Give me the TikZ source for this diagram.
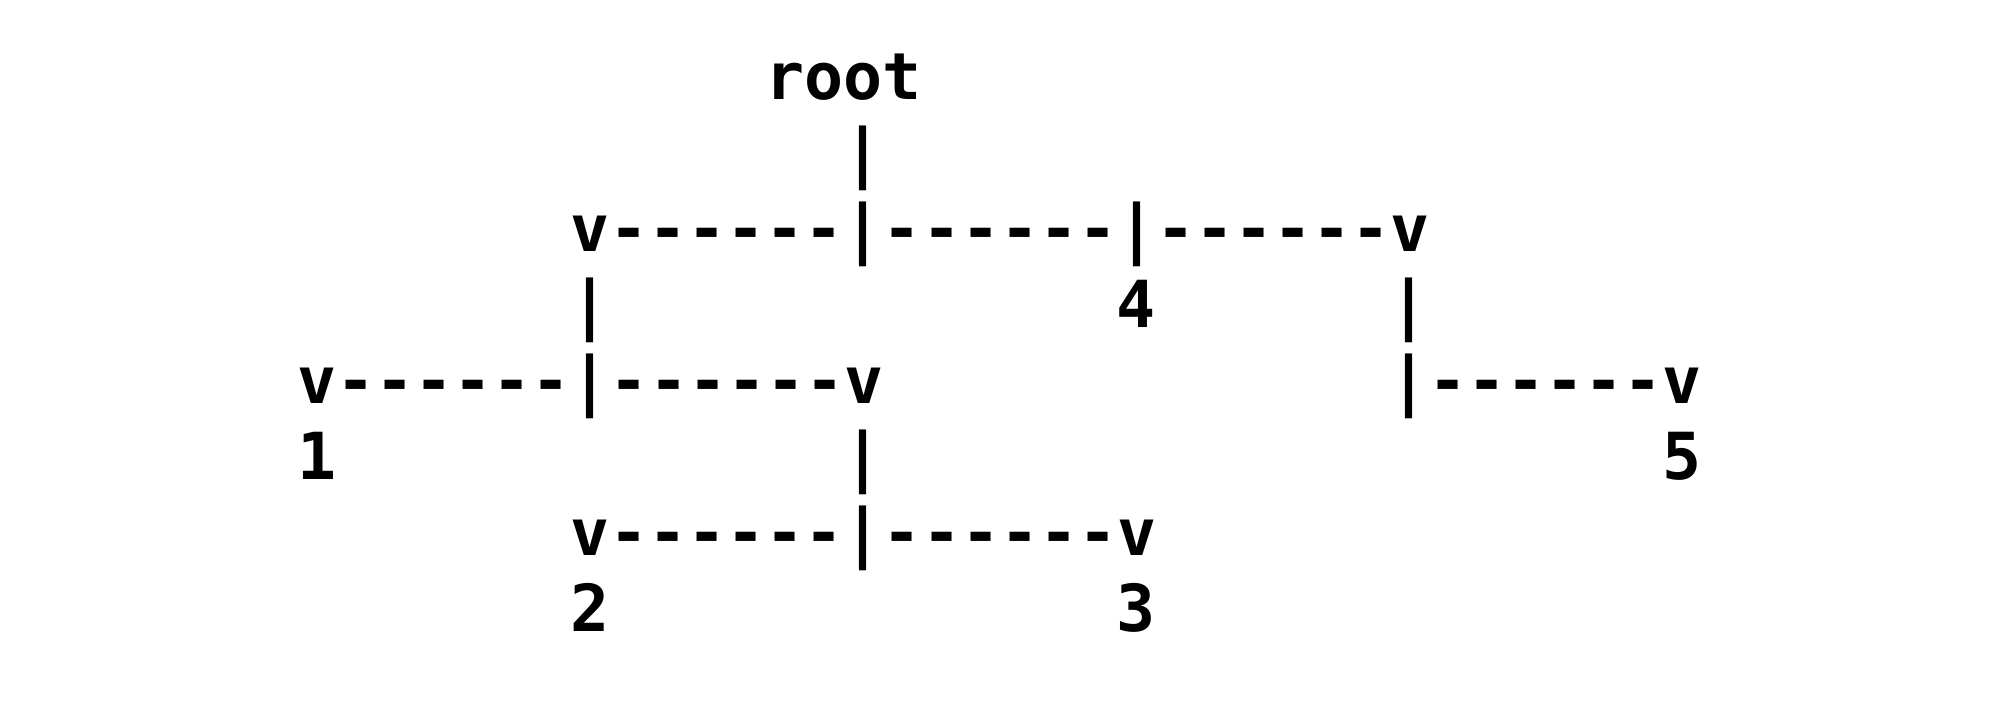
\documentclass[tikz,border=0pt]{standalone}
\usepackage{fontspec}
\newfontfamily\asciifont{DejaVu Sans Mono}
\usepackage{tikz}
\usetikzlibrary{positioning}

\tikzset{
  ascii/.style={font=\asciifont\bfseries\fontsize{18.45}{22}\selectfont,
    inner sep=0pt, outer sep=0pt, anchor=base west}
}

\begin{document}
\begin{tikzpicture}[x=0.01cm, y=-0.01cm]
  \useasboundingbox (0,0) rectangle (2000,710);
  % one node per run of characters: name/row/column/text
  \foreach \name/\row/\col/\txt in {
    root/1/12/root, stem/2/14/|,
    toprow/3/7/v------|------|------v,
    leftstem/4/7/|, four/4/21/4, rightstem/4/28/|,
    midrow/5/0/v------|------v, rightrow/5/28/|------v,
    one/6/0/1, lowstem/6/14/|, five/6/35/5,
    lowrow/7/7/v------|------v,
    two/8/7/2, three/8/21/3}{
    \node[ascii] (\name) at ({297.5+39*\col},{100+76*(\row-1)}) {\txt};
  }
\end{tikzpicture}
\end{document}
